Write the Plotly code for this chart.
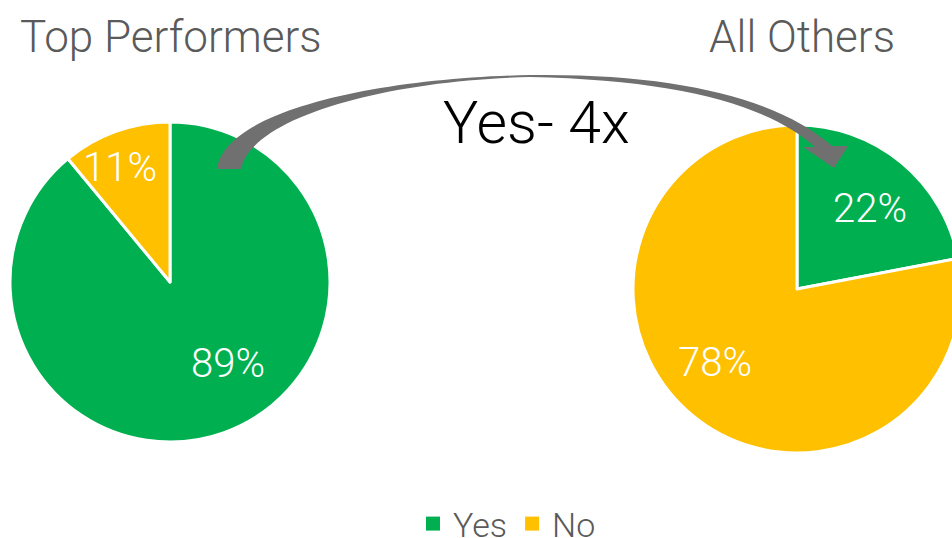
import plotly.graph_objects as go

categories = ["Yes", "No"]
top_performers = [89, 11]
all_others = [22, 78]
colors = ["#00B050", "#FFC000"]
titles = ["Top Performers", "All Others"]
callout = "Yes- 4x"

# ---- layout constants (pixel space of the 952x538 view) ----
H = 538
W = 966              # figure a bit wider than the view so the right pie is clipped
FONT = "Roboto"

def dom_x(cx, r):
    return [max(0.0, (cx - r) / W), min(1.0, (cx + r) / W)]

def dom_y(cy, r):
    return [max(0.0, 1 - (cy + r) / H), min(1.0, 1 - (cy - r) / H)]

pies = [
    dict(values=top_performers, name=titles[0], cx=170, cy=282, r=160,
         label_xy=[(228, 363), (120, 167)]),
    dict(values=all_others, name=titles[1], cx=797, cy=289, r=164,
         label_xy=[(870, 208), (715, 362)]),
]

fig = go.Figure()

for p in pies:
    fig.add_trace(go.Pie(
        values=p["values"], labels=categories, name=p["name"],
        sort=False, direction="clockwise", rotation=0,
        marker=dict(colors=colors, line=dict(color="white", width=3)),
        textinfo="none", hoverinfo="label+percent",
        domain=dict(x=dom_x(p["cx"], p["r"]), y=dom_y(p["cy"], p["r"])),
        showlegend=False,
    ))
    total = sum(p["values"])
    for v, (lx, ly) in zip(p["values"], p["label_xy"]):
        fig.add_annotation(x=lx, y=ly, xref="x", yref="y",
                           text=f"{round(100 * v / total)}%", showarrow=False,
                           xanchor="center", yanchor="middle",
                           font=dict(family=FONT, size=40, color="white", weight=300))

# legend entries (square markers)
for cat, col in zip(categories, colors):
    fig.add_trace(go.Scatter(x=[None], y=[None], mode="markers", name=cat,
                             marker=dict(symbol="square", size=14, color=col),
                             showlegend=True, hoverinfo="skip"))

# pixel-space axes (window coordinates)
fig.update_xaxes(range=[0, W], visible=False, fixedrange=True)
fig.update_yaxes(range=[H, 0], visible=False, fixedrange=True)

arrow_path = (
    "M 217,169 "
    "C 225,110 380,78 530,75 "
    "C 680,73 780,100 832,146 "
    "L 848,146 L 834,168 L 803,147 L 815,147 "
    "C 770,106 680,80 530,77 "
    "C 390,80 252,116 241,169 Z"
)
fig.add_shape(type="path", path=arrow_path, xref="x", yref="y",
              fillcolor="#707070", line=dict(width=0), layer="above")

fig.add_annotation(x=18, y=37, xref="x", yref="y", text=titles[0],
                   xanchor="left", yanchor="middle", showarrow=False,
                   font=dict(family=FONT, size=44, color="#5a5a5a", weight=300))
fig.add_annotation(x=897, y=37, xref="x", yref="y", text=titles[1],
                   xanchor="right", yanchor="middle", showarrow=False,
                   font=dict(family=FONT, size=44, color="#5a5a5a", weight=300))
fig.add_annotation(x=536, y=122, xref="x", yref="y", text=callout,
                   xanchor="center", yanchor="middle", showarrow=False,
                   font=dict(family=FONT, size=59, color="black", weight=300))

fig.update_layout(
    width=W, height=H,
    margin=dict(l=0, r=0, t=0, b=0, autoexpand=False),
    paper_bgcolor="white", plot_bgcolor="white",
    legend=dict(orientation="h", x=507 / W, xanchor="center",
                y=1 - 524 / H, yanchor="middle",
                font=dict(family=FONT, size=34, color="#5a5a5a", weight=300),
                bgcolor="rgba(0,0,0,0)", itemclick=False, itemdoubleclick=False),
)

fig.write_html(
    "out.html",
    config={"displayModeBar": False},
    post_script=("document.body.style.margin='0';"
                 "document.body.style.overflow='hidden';"
                 "document.documentElement.style.overflow='hidden';"),
)
